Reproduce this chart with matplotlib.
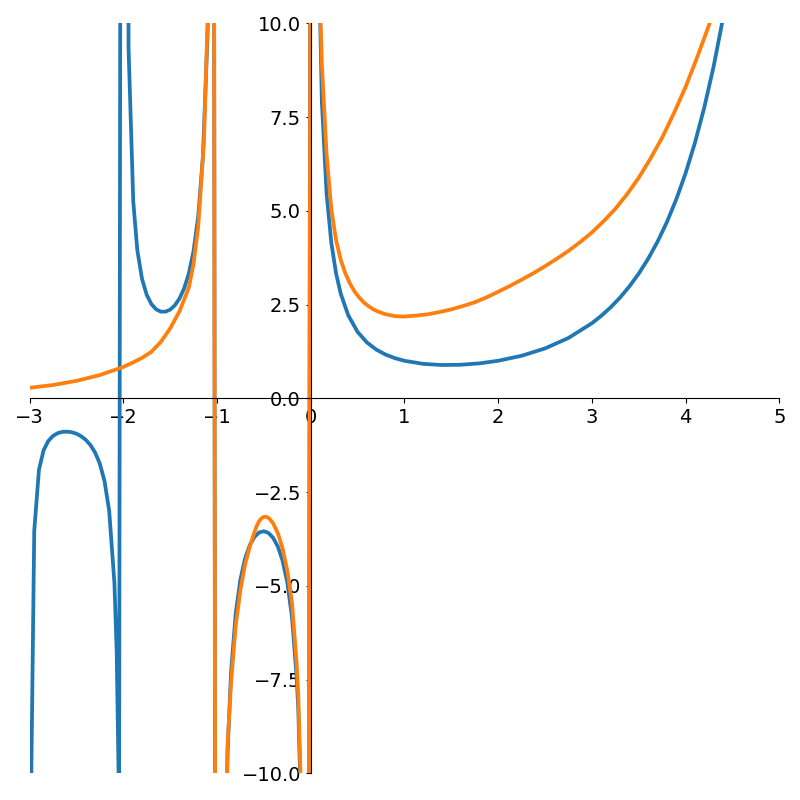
import matplotlib
matplotlib.use('Agg')
import matplotlib.pyplot as plt

# blue curve (gamma-like)
blue_x = [-3.0, -2.9497, -2.8994, -2.85, -2.8, -2.75, -2.7, -2.65, -2.6, -2.55,
          -2.5, -2.45, -2.4, -2.35, -2.3, -2.25, -2.2, -2.15, -2.0943, -2.07,
          -2.044, -1.9937, -1.9434, -1.8931, -1.85, -1.8, -1.75, -1.7, -1.65, -1.6,
          -1.55, -1.5, -1.45, -1.4, -1.35, -1.3, -1.25, -1.2, -1.15, -1.1,
          -1.088, -1.0377, -0.9874, -0.9371, -0.8868, -0.85, -0.8, -0.75, -0.7, -0.65,
          -0.6, -0.55, -0.5, -0.45, -0.4, -0.35, -0.3, -0.25, -0.2, -0.15,
          -0.1321, -0.0818, -0.0314, 0.0189, 0.0692, 0.1195, 0.1698, 0.2201, 0.2704, 0.3208,
          0.4, 0.5, 0.6, 0.7, 0.8, 0.9, 1.0, 1.2, 1.4, 1.6,
          1.8, 2.0, 2.25, 2.5, 2.75, 3.0, 3.1, 3.2, 3.3, 3.4,
          3.5, 3.6, 3.7, 3.8, 3.9, 4.0, 4.1, 4.2, 4.3, 4.4, 4.5]
blue_y = [-14.0, -3.54, -1.908, -1.388, -1.139, -1.005, -0.931, -0.896, -0.889, -0.905,
          -0.945, -1.011, -1.108, -1.247, -1.447, -1.743, -2.205, -3.0, -4.92, -6.746,
          -10.94, 80.1, 9.35, 5.25, 3.956, 3.188, 2.762, 2.514, 2.374, 2.311,
          2.309, 2.363, 2.477, 2.659, 2.931, 3.328, 3.921, 4.851, 6.449, 9.715,
          11.05, 26.2, -79.8, -16.4, -9.425, -7.318, -5.739, -4.834, -4.274, -3.917,
          -3.697, -3.578, -3.545, -3.591, -3.723, -3.957, -4.327, -4.902, -5.821, -7.417,
          -8.296, -12.89, -32.46, 52.35, 13.94, 7.898, 5.458, 4.148, 3.337, 2.789,
          2.218, 1.772, 1.489, 1.298, 1.164, 1.069, 1.0, 0.918, 0.887, 0.894,
          0.931, 1.0, 1.133, 1.329, 1.608, 2.0, 2.198, 2.424, 2.683, 2.981,
          3.323, 3.717, 4.171, 4.694, 5.299, 6.0, 6.813, 7.757, 8.855, 10.136, 11.632]

# orange curve
orange_x = [-3.0, -2.75, -2.5, -2.25, -2.0, -1.9, -1.8, -1.7, -1.6, -1.5,
            -1.4, -1.3, -1.25, -1.2, -1.1383, -1.088, -1.0377, -0.9874, -0.9371, -0.8868,
            -0.85, -0.8, -0.75, -0.7, -0.65, -0.625, -0.6, -0.575, -0.55, -0.525,
            -0.5, -0.475, -0.45, -0.425, -0.4, -0.375, -0.35, -0.3, -0.25, -0.2,
            -0.15, -0.1321, -0.0818, -0.0314, 0.0189, 0.0692, 0.1195, 0.1698, 0.2201, 0.2704,
            0.3208, 0.37, 0.42, 0.47, 0.52, 0.57, 0.62, 0.67, 0.72, 0.8,
            0.9, 1.0, 1.125, 1.25, 1.375, 1.5, 1.625, 1.75, 1.875, 2.0,
            2.125, 2.25, 2.375, 2.5, 2.625, 2.75, 2.875, 3.0, 3.125, 3.25,
            3.375, 3.5, 3.625, 3.75, 3.875, 4.0, 4.125, 4.25, 4.375, 4.5]
orange_y = [0.28, 0.353, 0.464, 0.619, 0.835, 0.95, 1.076, 1.24, 1.50, 1.86,
            2.32, 2.95, 3.58, 4.58, 6.86, 11.1, 25.6, -76.0, -15.8, -9.26,
            -7.6, -6.06, -5.12, -4.43, -3.96, -3.76, -3.57, -3.40, -3.28, -3.20,
            -3.162, -3.161, -3.19, -3.254, -3.34, -3.47, -3.6, -4.0, -4.59, -5.44,
            -7.06, -7.94, -12.4, -31.6, 48.0, 13.0, 8.9, 6.5, 5.05, 4.22,
            3.69, 3.33, 3.055, 2.84, 2.68, 2.55, 2.45, 2.37, 2.31, 2.24,
            2.19, 2.18, 2.205, 2.24, 2.30, 2.37, 2.46, 2.56, 2.69, 2.84,
            2.995, 3.16, 3.335, 3.52, 3.72, 3.93, 4.165, 4.42, 4.72, 5.05,
            5.44, 5.88, 6.39, 6.95, 7.6, 8.3, 9.1, 9.95, 10.95, 12.0]

xticks = [-3, -2, -1, 0, 1, 2, 3, 4, 5]
yticks = [-10.0, -7.5, -5.0, -2.5, 0.0, 2.5, 5.0, 7.5, 10.0]

fig = plt.figure(figsize=(8, 8), dpi=100)
ax = fig.add_axes([0.0369, 0.0334, 0.9372, 0.9375])

ax.plot(blue_x, blue_y, color='#1f77b4', lw=2.7)
ax.plot(orange_x, orange_y, color='#ff7f0e', lw=2.7)

ax.set_xlim(-3, 5)
ax.set_ylim(-10, 10)
ax.set_xticks(xticks)
ax.set_yticks(yticks)
ax.tick_params(labelsize=14)

# axes through the origin
ax.spines['left'].set_position(('data', 0))
ax.spines['bottom'].set_position(('data', 0))
ax.spines['top'].set_visible(False)
ax.spines['right'].set_visible(False)

fig.savefig('out.png', dpi=100)
